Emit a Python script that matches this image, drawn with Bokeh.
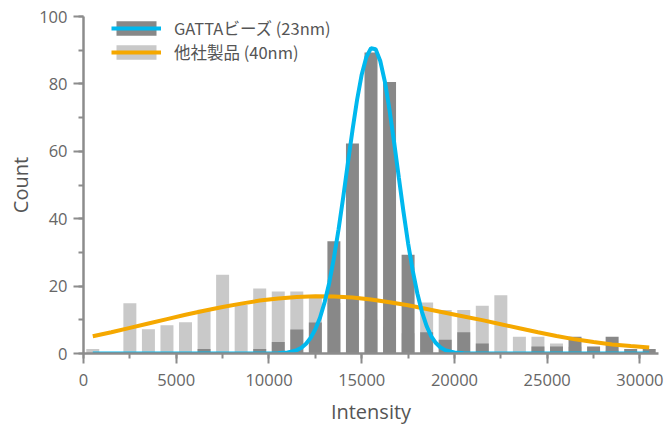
from bokeh.plotting import figure
from bokeh.models import SingleIntervalTicker, Legend, LegendItem, Range1d
from bokeh.embed import file_html
from bokeh.resources import INLINE

# Histogram bins (centre of each 1000-wide intensity bin)
bin_centers = [500, 1500, 2500, 3500, 4500, 5500, 6500, 7500, 8500, 9500,
               10500, 11500, 12500, 13500, 14500, 15500, 16500, 17500, 18500, 19500,
               20500, 21500, 22500, 23500, 24500, 25500, 26500, 27500, 28500, 29500, 30500]

# GATTA beads (23nm) counts
gatta_counts = [0, 0, 0, 0, 0, 0, 1.3, 0, 0, 1.3,
                3.4, 7.1, 9.2, 33.3, 62.3, 89.3, 80.6, 29.3, 6.3, 4.1,
                6.3, 3.0, 0, 0, 2.1, 2.1, 5.0, 2.1, 5.0, 1.3, 1.3]

# Other company product (40nm) counts
other_counts = [1.3, 0, 14.9, 7.2, 8.4, 9.3, 13.0, 23.4, 14.4, 19.3,
                18.4, 18.4, 16.5, 15.0, 12.0, 10.0, 8.0, 6.0, 15.1, 12.9,
                12.9, 14.2, 17.3, 5.0, 5.0, 3.0, 2.0, 1.0, 1.0, 0, 0]

# Fitted curve for GATTA beads
gatta_fit_x = [500, 1500, 2500, 3500, 4500, 5500, 6500, 7500, 8500, 9500, 10000,
               10500, 10750, 11000, 11250, 11500, 11750, 12000, 12250, 12500, 12750,
               13000, 13250, 13500, 13750, 14000, 14250, 14500, 14750, 15000, 15250,
               15500, 15750, 16000, 16250, 16500, 16750, 17000, 17250, 17500, 17750,
               18000, 18250, 18500, 18750, 19000, 19250, 19500, 19750, 20000, 20500,
               21000, 22000, 23000, 24000, 25000, 26000, 27000, 28000, 29000, 30000, 30500]
gatta_fit_y = [0, 0, 0, 0, 0, 0, 0, 0, 0, 0, 0,
               0.1, 0.2, 0.3, 0.6, 1.0, 1.7, 2.9, 4.7, 7.2, 10.6,
               15.2, 21.0, 28.3, 36.8, 46.3, 56.4, 66.2, 75.3, 82.8, 88.0,
               90.6, 90.3, 86.8, 80.6, 72.2, 62.5, 52.2, 42.1, 32.7, 24.6,
               17.8, 12.3, 8.1, 5.1, 3.1, 1.8, 1.0, 0.6, 0.3, 0.1,
               0, 0, 0, 0, 0, 0, 0, 0, 0, 0, 0]

# Fitted curve for the other product
other_fit_x = [500, 1500, 2500, 3500, 4500, 5500, 6500, 7500, 8500, 9500,
               10500, 11500, 12500, 13500, 14500, 15500, 16500, 17500, 18500, 19500,
               20500, 21500, 22500, 23500, 24500, 25500, 26500, 27500, 28500, 29500, 30500]
other_fit_y = [5.1, 6.3, 7.6, 8.9, 10.2, 11.5, 12.7, 13.8, 14.8, 15.7,
               16.3, 16.8, 17.0, 16.9, 16.6, 16.0, 15.2, 14.3, 13.2, 12.1,
               11.0, 9.9, 8.7, 7.5, 6.3, 5.2, 4.2, 3.4, 2.7, 2.2, 1.8]

legend_labels = ["GATTAビーズ (23nm)", "他社製品 (40nm)"]

DARK = "#888888"
LIGHT = "#c9c9c9"
BLUE = "#00b8ee"
ORANGE = "#f5a800"
AXIS = "#8c8c8c"

p = figure(width=665, height=427,
           x_range=Range1d(0, 31000), y_range=Range1d(0, 100),
           output_backend="svg", toolbar_location=None,
           min_border_left=83, min_border_right=7, min_border_top=16, min_border_bottom=0,
           x_axis_label="Intensity", y_axis_label="Count")
p.outline_line_color = None
p.grid.visible = False
p.background_fill_color = "white"
p.border_fill_color = "white"

r_other = p.vbar(x=bin_centers, top=other_counts, width=700, fill_color=LIGHT, line_color=None)
r_gatta = p.vbar(x=bin_centers, top=gatta_counts, width=700, fill_color=DARK, line_color=None)
r_oline = p.line(other_fit_x, other_fit_y, line_color=ORANGE, line_width=4)
r_bline = p.line(gatta_fit_x, gatta_fit_y, line_color=BLUE, line_width=4)

p.xaxis.ticker = SingleIntervalTicker(interval=5000, num_minor_ticks=2)
p.yaxis.ticker = SingleIntervalTicker(interval=20, num_minor_ticks=2)

for ax in (p.xaxis, p.yaxis):
    ax.axis_line_color = AXIS
    ax.axis_line_width = 2.5
    ax.major_tick_line_color = AXIS
    ax.major_tick_line_width = 2
    ax.minor_tick_line_color = AXIS
    ax.minor_tick_line_width = 2
    ax.major_tick_out = 10
    ax.major_tick_in = 0
    ax.minor_tick_out = 5
    ax.minor_tick_in = 0
    ax.major_label_text_font = "Open Sans"
    ax.major_label_text_font_size = "16.5px"
    ax.major_label_text_color = "#666666"
    ax.axis_label_text_font = "Open Sans"
    ax.axis_label_text_font_size = "20px"
    ax.axis_label_text_font_style = "normal"
    ax.axis_label_text_color = "#555555"

p.xaxis.major_label_standoff = 10
p.xaxis.axis_label_standoff = 9
p.yaxis.major_label_standoff = 6
p.yaxis.axis_label_standoff = 2

legend = Legend(items=[LegendItem(label=legend_labels[0], renderers=[r_gatta, r_bline]),
                       LegendItem(label=legend_labels[1], renderers=[r_other, r_oline])],
                location=(26, 287), padding=2, spacing=0,
                glyph_width=50, glyph_height=18, label_height=18, label_standoff=13,
                label_text_font="Noto Sans CJK JP", label_text_font_size="16.5px",
                label_text_color="#555555",
                background_fill_alpha=0, border_line_alpha=0)
p.add_layout(legend)

open("out.html", "w").write(file_html(p, INLINE))
